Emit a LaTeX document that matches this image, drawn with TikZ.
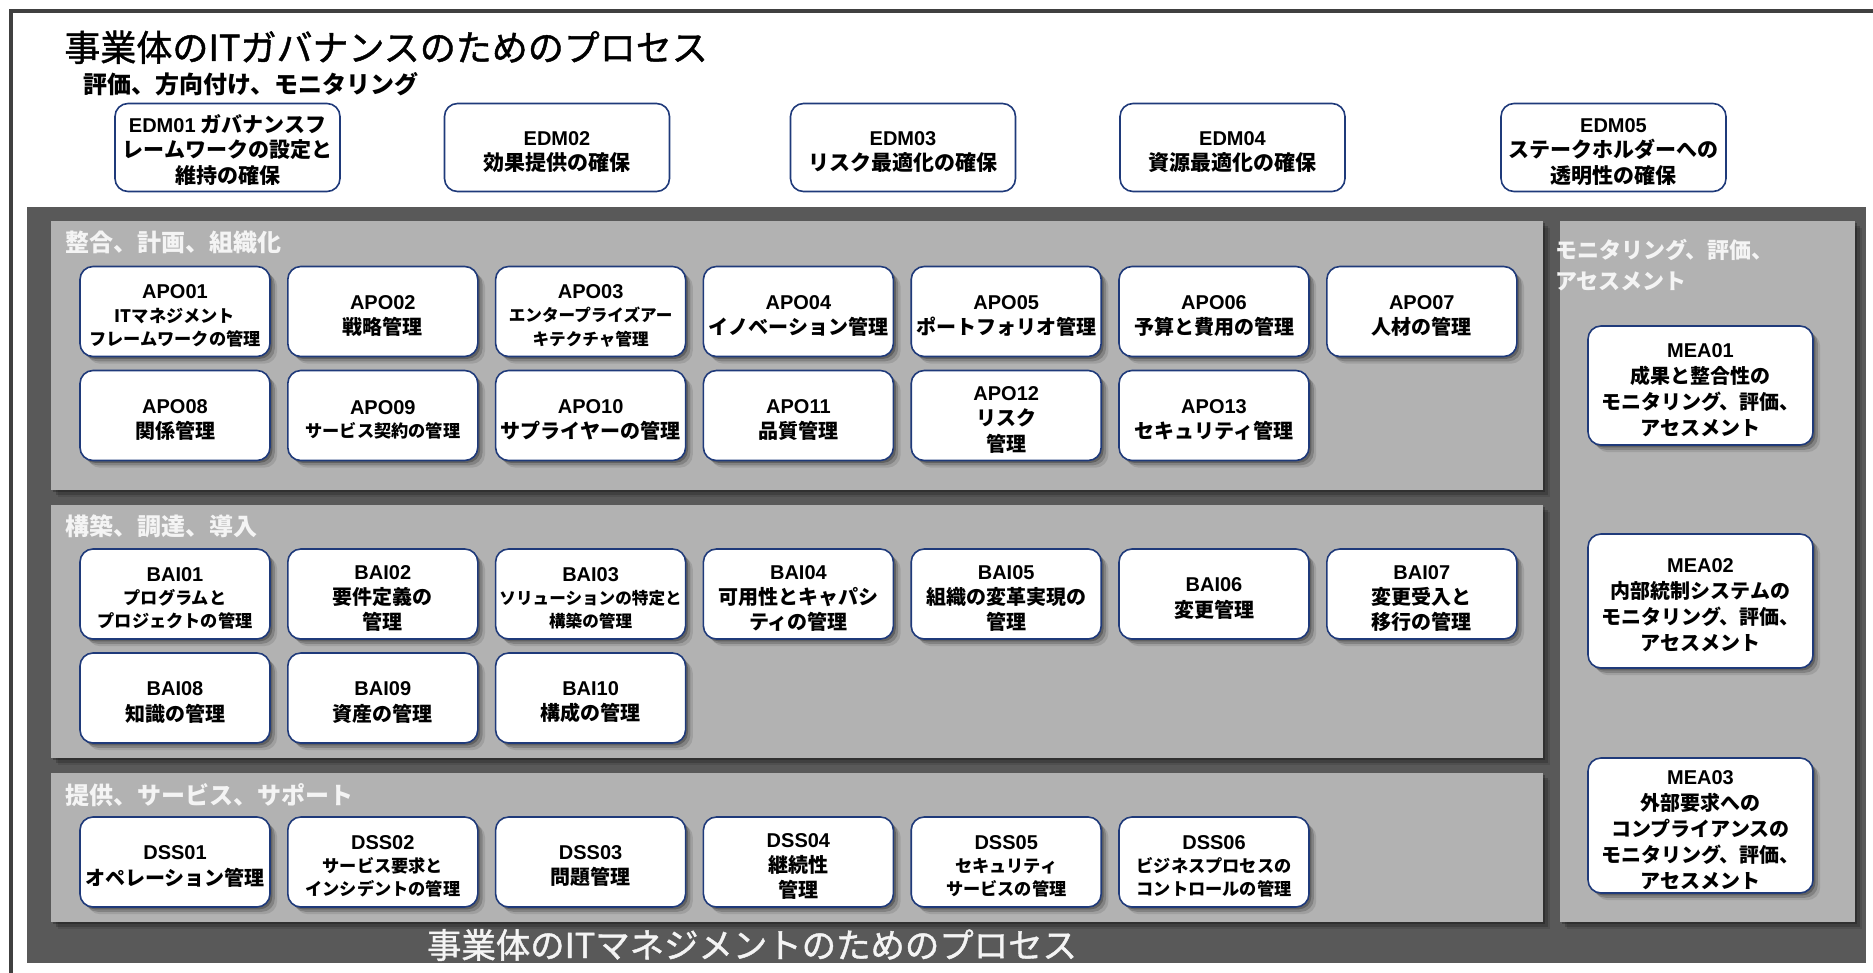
\documentclass[tikz,border=0pt]{standalone}
\usepackage{fontspec}
\newfontfamily\jp{Noto Sans CJK JP}
\newfontfamily\jpt{Noto Sans CJK JP}[FakeBold=1.2]
\newfontfamily\lat{Liberation Sans}
\usetikzlibrary{shadows}
\definecolor{framec}{HTML}{404040}
\definecolor{darkp}{HTML}{595959}
\definecolor{lightp}{HTML}{B2B2B2}
\definecolor{navy}{HTML}{1F3A7A}
\definecolor{wtext}{HTML}{F4F4F4}
\newcommand\idf[1]{{\lat\bfseries\fontsize{10}{\baselineskip}\selectfont\rule{0pt}{11.4pt}#1}}
\tikzset{
  shd/.style={drop shadow={shadow xshift=1.2pt,shadow yshift=-1.2pt,opacity=.25,fill=black},
              drop shadow={shadow xshift=2.4pt,shadow yshift=-2.4pt,opacity=.18,fill=black},
              drop shadow={shadow xshift=3.6pt,shadow yshift=-3.6pt,opacity=.10,fill=black}},
  boxbase/.style={draw=navy, line width=0.8pt, fill=white, rounded corners=6.5pt, align=center, inner sep=0pt, outer sep=0pt},
  pbox/.style={boxbase, shd, minimum width=95pt, minimum height=45pt, font=\jp\bfseries\fontsize{10}{12.6}\selectfont},
  pboxs/.style={pbox, font=\jp\bfseries\fontsize{8.6}{11.6}\selectfont},
  pboxss/.style={pbox, font=\jp\bfseries\fontsize{8.3}{11.6}\selectfont},
  edm/.style={boxbase, minimum width=112.5pt, minimum height=44pt, font=\jp\bfseries\fontsize{10.5}{12.8}\selectfont},
  mea/.style={boxbase, shd, minimum width=112.5pt, font=\jp\bfseries\fontsize{10}{13}\selectfont},
  panel/.style={fill=lightp, shd, inner sep=0pt, outer sep=0pt, anchor=north west},
  lbl/.style={text=wtext, font=\jp\bfseries\fontsize{12}{15}\selectfont, inner sep=0pt, anchor=base west},
  mlbl/.style={text=wtext, font=\jp\bfseries\fontsize{11}{14}\selectfont, inner sep=0pt, anchor=base west},
}
\begin{document}
\begin{tikzpicture}[x=0.5pt,y=-0.5pt]
\useasboundingbox (0,0) rectangle (1873,973);
\fill[white] (0,0) rectangle (1873,973);
% outer frame
\draw[framec, line width=2pt] (11,11) rectangle (1900,1000);
% titles
\node[inner sep=0pt, anchor=base west, font=\jpt\fontsize{18}{20}\selectfont] (title) at (64,61) {事業体のITガバナンスのためのプロセス};
\node[inner sep=0pt, anchor=base west, font=\jp\bfseries\fontsize{12}{14}\selectfont] (sub) at (83,94) {評価、方向付け、モニタリング};
% EDM
\node[edm] (edm01) at (227.5,147.5) {{\idf{EDM01}} ガバナンスフ\\レームワークの設定と\\維持の確保};
\node[edm] (edm02) at (557,147.5) {\idf{EDM02}\\効果提供の確保};
\node[edm] (edm03) at (903,147.5) {\idf{EDM03}\\リスク最適化の確保};
\node[edm] (edm04) at (1232.5,147.5) {\idf{EDM04}\\資源最適化の確保};
\node[edm] (edm05) at (1613.5,147.5) {\idf{EDM05}\\ステークホルダーへの\\透明性の確保};
% dark panel
\node[fill=darkp, inner sep=0pt, outer sep=0pt, anchor=north west, minimum width=919.5pt, minimum height=378pt] (mgmt) at (27,207) {};
% light panels
\node[panel, minimum width=746pt, minimum height=134.5pt] (apo) at (51,221) {};
\node[panel, minimum width=746pt, minimum height=126.5pt] (bai) at (51,505) {};
\node[panel, minimum width=746pt, minimum height=74.5pt] (dss) at (51,773) {};
\node[panel, minimum width=147.5pt, minimum height=350.5pt] (mea) at (1560,221) {};
% section labels
\node[lbl] (lapo) at (65,251) {整合、計画、組織化};
\node[lbl] (lbai) at (65,535) {構築、調達、導入};
\node[lbl] (ldss) at (65,804) {提供、サービス、サポート};
\node[mlbl] (lmea1) at (1555,259) {モニタリング、評価、};
\node[mlbl] (lmea2) at (1555,290) {アセスメント};
% APO
\node[pboxs] (apo01) at (175,311.5) {\idf{APO01}\\ITマネジメント\\フレームワークの管理};
\node[pbox] (apo02) at (382.8,311.5) {\idf{APO02}\\戦略管理};
\node[pboxss] (apo03) at (590.6,311.5) {\idf{APO03}\\エンタープライズアー\\キテクチャ管理};
\node[pbox] (apo04) at (798.4,311.5) {\idf{APO04}\\イノベーション管理};
\node[pbox] (apo05) at (1006.2,311.5) {\idf{APO05}\\ポートフォリオ管理};
\node[pbox] (apo06) at (1214,311.5) {\idf{APO06}\\予算と費用の管理};
\node[pbox] (apo07) at (1421.8,311.5) {\idf{APO07}\\人材の管理};
\node[pbox] (apo08) at (175,415.5) {\idf{APO08}\\関係管理};
\node[pboxs] (apo09) at (382.8,415.5) {\idf{APO09}\\サービス契約の管理};
\node[pbox] (apo10) at (590.6,415.5) {\idf{APO10}\\サプライヤーの管理};
\node[pbox] (apo11) at (798.4,415.5) {\idf{APO11}\\品質管理};
\node[pbox] (apo12) at (1006.2,415.5) {\idf{APO12}\\リスク\\管理};
\node[pbox] (apo13) at (1214,415.5) {\idf{APO13}\\セキュリティ管理};
% BAI
\node[pboxs] (bai01) at (175,594) {\idf{BAI01}\\プログラムと\\プロジェクトの管理};
\node[pbox] (bai02) at (382.8,594) {\idf{BAI02}\\要件定義の\\管理};
\node[pboxss] (bai03) at (590.6,594) {\idf{BAI03}\\ソリューションの特定と\\構築の管理};
\node[pbox] (bai04) at (798.4,594) {\idf{BAI04}\\可用性とキャパシ\\ティの管理};
\node[pbox] (bai05) at (1006.2,594) {\idf{BAI05}\\組織の変革実現の\\管理};
\node[pbox] (bai06) at (1214,594) {\idf{BAI06}\\変更管理};
\node[pbox] (bai07) at (1421.8,594) {\idf{BAI07}\\変更受入と\\移行の管理};
\node[pbox] (bai08) at (175,698) {\idf{BAI08}\\知識の管理};
\node[pbox] (bai09) at (382.8,698) {\idf{BAI09}\\資産の管理};
\node[pbox] (bai10) at (590.6,698) {\idf{BAI10}\\構成の管理};
% DSS
\node[pbox] (dss01) at (175,862) {\idf{DSS01}\\オペレーション管理};
\node[pboxs] (dss02) at (382.8,862) {\idf{DSS02}\\サービス要求と\\インシデントの管理};
\node[pbox] (dss03) at (590.6,862) {\idf{DSS03}\\問題管理};
\node[pbox] (dss04) at (798.4,862) {\idf{DSS04}\\継続性\\管理};
\node[pboxs] (dss05) at (1006.2,862) {\idf{DSS05}\\セキュリティ\\サービスの管理};
\node[pboxs] (dss06) at (1214,862) {\idf{DSS06}\\ビジネスプロセスの\\コントロールの管理};
% MEA
\node[mea, minimum height=59.5pt] (mea01) at (1700.5,385.5) {\idf{MEA01}\\成果と整合性の\\モニタリング、評価、\\アセスメント};
\node[mea, minimum height=67pt] (mea02) at (1700.5,601) {\idf{MEA02}\\内部統制システムの\\モニタリング、評価、\\アセスメント};
\node[mea, minimum height=67.5pt] (mea03) at (1700.5,825.5) {\idf{MEA03}\\外部要求への\\コンプライアンスの\\モニタリング、評価、\\アセスメント};
% bottom title
\begin{scope}
\clip (27,207) rectangle (1866,963);
\node[inner sep=0pt, anchor=base, text=wtext, font=\jpt\fontsize{17.2}{20}\selectfont] (mtitle) at (752,958) {事業体のITマネジメントのためのプロセス};
\end{scope}
\end{tikzpicture}
\end{document}
